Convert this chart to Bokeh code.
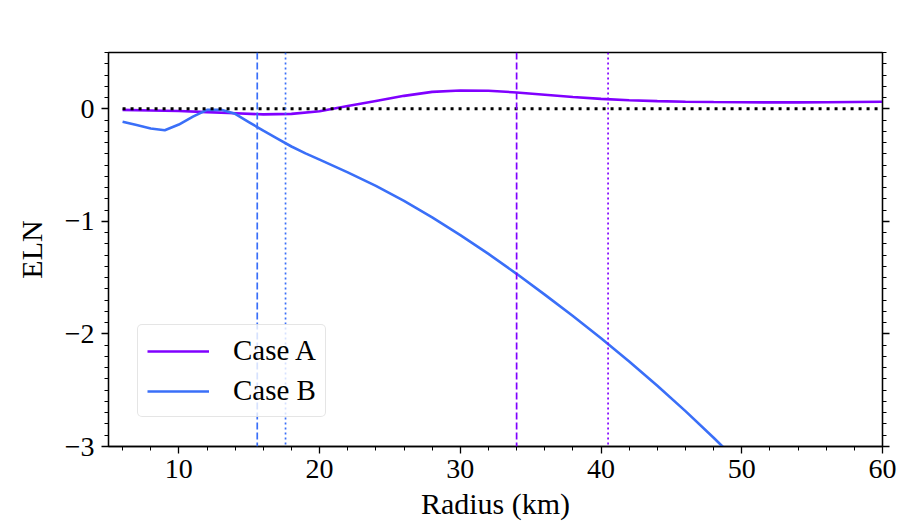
from bokeh.plotting import figure
from bokeh.models import (Range1d, LinearAxis, SingleIntervalTicker, Span,
                          Legend, LegendItem, CustomLabelingPolicy)
from bokeh.embed import file_html
from bokeh.resources import INLINE

# ---------------- data ----------------
case_a_r = [6, 8, 10, 12, 14, 16, 18, 20, 22, 24, 26, 28, 30, 32, 34, 36, 38,
            40, 42, 44, 46, 48, 50, 52, 54, 56, 58, 60]
case_a_eln = [-0.010, -0.015, -0.020, -0.030, -0.040, -0.050, -0.045, -0.022,
              0.025, 0.070, 0.115, 0.150, 0.163, 0.160, 0.145, 0.125, 0.105,
              0.088, 0.076, 0.068, 0.063, 0.060, 0.058, 0.057, 0.057, 0.058,
              0.060, 0.062]

case_b_r = [6, 7, 8, 9, 10, 11, 12, 13, 14, 15, 16, 17, 18, 19, 20, 22, 24, 26,
            28, 30, 32, 34, 36, 38, 40, 42, 44, 46, 48, 50, 52]
case_b_eln = [-0.115, -0.145, -0.175, -0.190, -0.140, -0.070, -0.010, -0.008,
              -0.045, -0.120, -0.195, -0.265, -0.335, -0.396, -0.452, -0.565,
              -0.685, -0.818, -0.965, -1.122, -1.289, -1.466, -1.651, -1.841,
              -2.038, -2.244, -2.460, -2.686, -2.922, -3.168, -3.424]

# vertical marker radii (km)
case_a_dashed_r = 34.0
case_a_dotted_r = 40.5
case_b_dashed_r = 15.57
case_b_dotted_r = 17.58

zero_level = 0.0

series_labels = ["Case A", "Case B"]
x_label = "Radius (km)"
y_label = "ELN"
y_tick_values = [-3, -2, -1, 0]
y_tick_labels = ["\u22123", "\u22122", "\u22121", "0"]

# ---------------- style ----------------
PURPLE = "#8000ff"
BLUE = "#3a6ff8"
FONT = "'Liberation Serif', serif"

p = figure(width=900, height=525, output_backend="svg", toolbar_location=None,
           x_range=Range1d(5, 60), y_range=Range1d(-3, 0.5),
           min_border_left=108, min_border_right=18, min_border_top=52,
           min_border_bottom=79)
p.xgrid.visible = False
p.ygrid.visible = False
p.outline_line_color = "black"
p.outline_line_width = 1.3
p.outline_line_alpha = 1.0
p.background_fill_color = "white"
p.border_fill_color = "white"

ra = p.line(case_a_r, case_a_eln, line_color=PURPLE, line_width=2.6)
rb = p.line(case_b_r, case_b_eln, line_color=BLUE, line_width=2.6)
p.line([case_a_r[0], case_a_r[-1]], [zero_level, zero_level], line_color="black",
       line_width=3, line_dash="3 5")

for loc, col, dash in [(case_b_dashed_r, BLUE, "7 3"), (case_b_dotted_r, BLUE, "2 3"),
                       (case_a_dashed_r, PURPLE, "7 3"), (case_a_dotted_r, PURPLE, "2 3")]:
    p.add_layout(Span(location=loc, dimension="height", line_color=col,
                      line_width=1.7, line_dash=dash))


def style_axis(ax):
    ax.axis_line_color = "black"
    ax.axis_line_width = 1.3
    ax.major_tick_line_color = "black"
    ax.major_tick_line_width = 1.3
    ax.minor_tick_line_color = "black"
    ax.minor_tick_line_width = 1.0
    ax.major_tick_out = 7
    ax.major_tick_in = 0
    ax.minor_tick_out = 4
    ax.minor_tick_in = 0
    ax.major_label_text_font = FONT
    ax.major_label_text_font_size = "28px"
    ax.major_label_text_color = "black"
    ax.axis_label_text_font = FONT
    ax.axis_label_text_font_size = "30px"
    ax.axis_label_text_font_style = "normal"
    ax.axis_label_text_color = "black"


xt = SingleIntervalTicker(interval=10, num_minor_ticks=5)
yt = SingleIntervalTicker(interval=1, num_minor_ticks=10)

xa = p.xaxis[0]
xa.ticker = xt
xa.axis_label = x_label
style_axis(xa)
xa.major_label_standoff = 6
xa.axis_label_standoff = 6

ya = p.yaxis[0]
ya.ticker = yt
ya.axis_label = y_label
style_axis(ya)
ya.major_label_standoff = 7
ya.axis_label_standoff = 14
ya.major_label_overrides = dict(zip(y_tick_values, y_tick_labels))

yr = LinearAxis(ticker=yt)
style_axis(yr)
yr.major_label_text_font_size = "0px"
yr.major_label_policy = CustomLabelingPolicy(code="return new Set()")
yr.major_label_standoff = 0
p.add_layout(yr, "right")

legend = Legend(items=[LegendItem(label=series_labels[0], renderers=[ra]),
                       LegendItem(label=series_labels[1], renderers=[rb])],
                location=(29, 29))
legend.glyph_width = 62
legend.glyph_height = 28
legend.label_height = 28
legend.label_standoff = 24
legend.spacing = 7
legend.padding = 9
legend.margin = 0
legend.border_line_color = "#cccccc"
legend.border_line_width = 1.2
legend.border_radius = 5
legend.background_fill_color = "white"
legend.background_fill_alpha = 0.8
legend.label_text_font = FONT
legend.label_text_font_size = "29px"
legend.label_text_color = "black"
p.add_layout(legend)

open("out.html", "w").write(file_html(p, INLINE))
